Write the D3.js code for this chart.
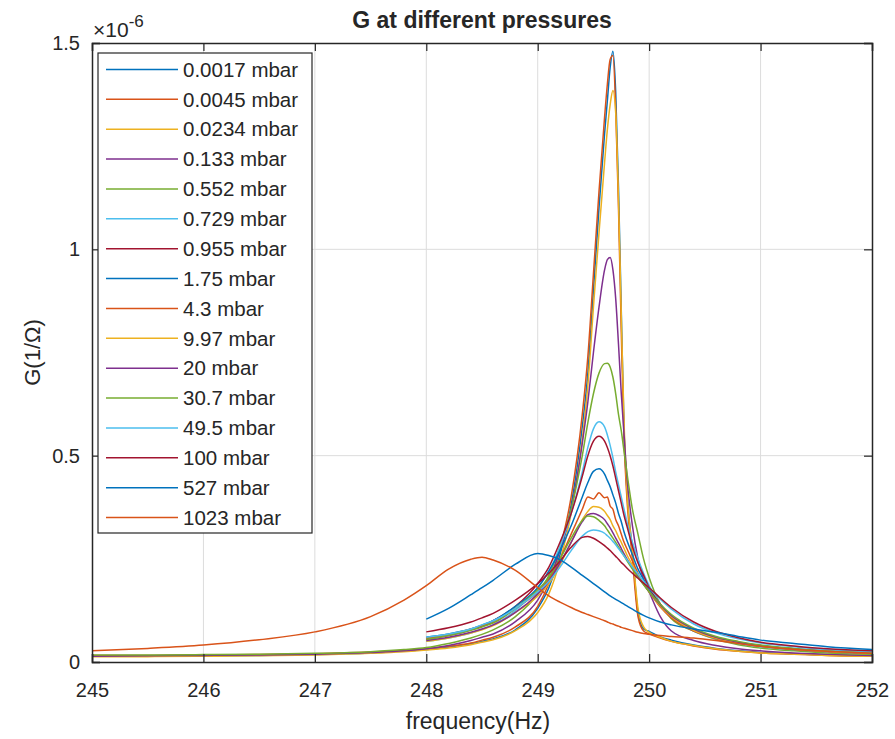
<!DOCTYPE html>
<html>
<head>
<meta charset="utf-8">
<script src="https://cdn.jsdelivr.net/npm/d3@7"></script>
<style>
  body { margin: 0; background: #ffffff; }
  text { font-family: "Liberation Sans", Arial, Helvetica, sans-serif; fill: #262626; }
</style>
</head>
<body>
<div id="chart"></div>
<script>

// frequency grid (Hz) shared by all series
var freq = [245, 245.5, 246, 246.5, 247, 247.5, 247.8,
  248, 248.2, 248.4, 248.5, 248.6, 248.8,
  249, 249.1, 249.2, 249.3, 249.4, 249.45, 249.5, 249.55, 249.6, 249.625, 249.65, 249.675,
  249.7, 249.725, 249.75, 249.775, 249.8, 249.85, 249.9, 249.95,
  250, 250.1, 250.2, 250.4, 250.6, 250.8, 251, 251.3, 251.6, 252];

// G values in units of 1e-6 (1/Ohm); null = not measured
var g0017 = [.014, .014, .015, .016, .018, .022, .026, .030, .036, .044, .05, .056, .078,
  .13, .18, .26, .38, .57, .70, .90, 1.10, 1.28, 1.36, 1.44, 1.48, 1.38, 1.15, .85, .56, .42, .27, .12, .08,
  .074, .061, .053, .041, .033, .027, .023, .020, .017, .015];
var g0045 = [.016, .016, .017, .018, .020, .024, .028, .032, .038, .046, .053, .060, .085,
  .135, .19, .275, .40, .60, .74, .94, 1.14, 1.32, 1.40, 1.46, 1.47, 1.34, 1.10, .80, .54, .40, .25, .11, .075,
  .068, .058, .05, .039, .031, .026, .022, .019, .016, .014];
var g0234 = [.013, .013, .014, .015, .017, .021, .025, .029, .034, .042, .048, .054, .076,
  .12, .165, .245, .36, .54, .67, .86, 1.04, 1.21, 1.29, 1.35, 1.385, 1.33, 1.12, .84, .58, .42, .27, .13, .085,
  .072, .06, .05, .04, .032, .026, .022, .019, .016, .014];
var g133 = [.014, .015, .016, .017, .019, .023, .027, .032, .040, .052, .06, .068, .098,
  .15, .20, .27, .37, .53, .63, .75, .86, .95, .975, .98, .95, .88, .77, .65, .55, .45, .33, .25, .2,
  .17, .11, .075, .052, .040, .032, .027, .022, .019, .016];
var g552 = [.017, .017, .018, .019, .021, .025, .030, .035, .045, .058, .067, .078, .11,
  .165, .21, .28, .37, .50, .58, .65, .70, .723, .724, .715, .69, .65, .60, .56, .51, .46, .37, .31, .25,
  .205, .14, .105, .075, .055, .042, .034, .027, .022, .019];
var g729 = [null, null, null, null, null, null, null, .05, .058, .07, .079, .09, .125,
  .18, .22, .28, .36, .46, .52, .565, .582, .57, .55, .525, .495, .46, .43, .40, .37, .34, .29, .25, .215,
  .185, .14, .11, .075, .056, .045, .037, .03, .025, .021];
var g955 = [null, null, null, null, null, null, null, .055, .064, .078, .088, .10, .135,
  .19, .23, .29, .36, .45, .50, .535, .547, .535, .52, .50, .475, .445, .415, .385, .355, .33, .28, .24, .21,
  .18, .14, .11, .077, .058, .047, .039, .031, .026, .022];
var g175 = [null, null, null, null, null, null, null, .06, .068, .08, .089, .10, .135,
  .18, .22, .27, .33, .40, .435, .462, .468, .455, .44, .425, .405, .385, .36, .34, .315, .295, .26, .225, .20,
  .175, .135, .108, .076, .058, .047, .039, .031, .026, .022];
var g43 = [null, null, null, null, null, null, null, .058, .066, .08, .088, .095, .13,
  .17, .2, .25, .31, .37, .40, .395, .41, .398, .40, .378, .37, .345, .33, .31, .29, .275, .245, .215, .19,
  .17, .133, .107, .075, .057, .046, .038, .03, .025, .021];
var g997 = [null, null, null, null, null, null, null, .05, .058, .07, .078, .088, .12,
  .16, .19, .235, .29, .345, .365, .377, .375, .365, .355, .345, .33, .318, .303, .29, .275, .26, .235, .21, .19,
  .17, .135, .11, .077, .058, .047, .039, .031, .026, .022];
var g20 = [null, null, null, null, null, null, null, .052, .06, .072, .08, .09, .12,
  .165, .195, .24, .29, .34, .357, .36, .355, .345, .335, .325, .313, .30, .288, .275, .262, .25, .228, .207, .188,
  .17, .138, .112, .08, .06, .048, .04, .032, .027, .023];
var g307 = [null, null, null, null, null, null, null, .055, .064, .077, .085, .095, .13,
  .175, .205, .25, .30, .343, .354, .352, .343, .33, .32, .31, .30, .29, .279, .268, .257, .246, .225, .205, .187,
  .17, .14, .115, .082, .062, .05, .041, .033, .027, .023];
var g495 = [null, null, null, null, null, null, null, .06, .068, .08, .09, .10, .13,
  .17, .195, .23, .27, .305, .316, .32, .318, .312, .306, .30, .292, .284, .275, .266, .257, .248, .23, .213, .196,
  .18, .152, .128, .092, .07, .056, .046, .037, .03, .025];
var g100 = [null, null, null, null, null, null, null, .073, .083, .097, .107, .118, .15,
  .19, .215, .245, .278, .302, .304, .30, .292, .282, .276, .27, .263, .256, .249, .241, .235, .228, .215, .203, .191,
  .18, .155, .132, .097, .074, .059, .048, .039, .032, .027];
var g527 = [null, null, null, null, null, null, null, .104, .13, .163, .18, .198, .237,
  .263, .258, .248, .23, .21, .2, .19, .18, .17, .165, .16, .156, .152, .148, .144, .14, .136, .128, .12, .113,
  .107, .097, .09, .08, .072, .062, .053, .045, .037, .03];
var g1023 = [.027, .033, .041, .054, .073, .11, .15, .185, .225, .249, .254, .247, .222,
  .18, .16, .145, .132, .12, .115, .11, .105, .10, .097, .094, .092, .089, .087, .084, .082, .08, .076, .072, .069,
  .067, .064, .062, .058, .052, .045, .038, .031, .026, .021];

var pressures = ["0.0017 mbar", "0.0045 mbar", "0.0234 mbar", "0.133 mbar", "0.552 mbar",
  "0.729 mbar", "0.955 mbar", "1.75 mbar", "4.3 mbar", "9.97 mbar", "20 mbar",
  "30.7 mbar", "49.5 mbar", "100 mbar", "527 mbar", "1023 mbar"];
var seriesValues = [g0017, g0045, g0234, g133, g552, g729, g955, g175, g43, g997,
  g20, g307, g495, g100, g527, g1023];

var xTicks = [245, 246, 247, 248, 249, 250, 251, 252];
var yTicks = [0, 0.5, 1, 1.5];
var yTickLabels = ["0", "0.5", "1", "1.5"];

// matlab default line colours
var colors = ["#0072BD", "#D95319", "#EDB120", "#7E2F8E", "#77AC30", "#4DBEEE", "#A2142F"];

var svgWidth = 895;
var svgHeight = 739;

var margin = {
  top: 43,
  right: 23,
  bottom: 77,
  left: 92
};

var width = svgWidth - margin.left - margin.right;
var height = svgHeight - margin.top - margin.bottom;

var svg = d3.select("#chart")
  .append("svg")
  .attr("width", svgWidth)
  .attr("height", svgHeight);

svg.append("rect")
  .attr("width", svgWidth)
  .attr("height", svgHeight)
  .attr("fill", "#ffffff");

var chartGroup = svg.append("g")
  .attr("transform", `translate(${margin.left}, ${margin.top})`);

var xScale = d3.scaleLinear()
  .domain([245, 252])
  .range([0, width]);

var yScale = d3.scaleLinear()
  .domain([0, 1.5])
  .range([height, 0]);

// grid lines
chartGroup.append("g")
  .selectAll("line")
  .data(xTicks.slice(1, -1))
  .enter()
  .append("line")
  .attr("x1", d => xScale(d))
  .attr("x2", d => xScale(d))
  .attr("y1", 0)
  .attr("y2", height)
  .attr("stroke", "#dcdcdc")
  .attr("stroke-width", 1);

chartGroup.append("g")
  .selectAll("line")
  .data(yTicks.slice(1, -1))
  .enter()
  .append("line")
  .attr("x1", 0)
  .attr("x2", width)
  .attr("y1", d => yScale(d))
  .attr("y2", d => yScale(d))
  .attr("stroke", "#dcdcdc")
  .attr("stroke-width", 1);

chartGroup.append("clipPath")
  .attr("id", "plotClip")
  .append("rect")
  .attr("width", width)
  .attr("height", height);

var line = d3.line()
  .defined(d => d[1] !== null)
  .x(d => xScale(d[0]))
  .y(d => yScale(d[1]))
  .curve(d3.curveMonotoneX);

// one path per pressure
chartGroup.append("g")
  .attr("clip-path", "url(#plotClip)")
  .selectAll("path")
  .data(seriesValues)
  .enter()
  .append("path")
  .attr("d", vals => line(freq.map((f, i) => [f, vals[i]])))
  .attr("fill", "none")
  .attr("stroke", (d, i) => colors[i % colors.length])
  .attr("stroke-width", 1.5)
  .attr("stroke-linejoin", "round");

// axes, ticks pointing inwards like matlab
var xAxis = d3.axisBottom(xScale)
  .tickValues(xTicks)
  .tickFormat(d3.format("d"))
  .tickSize(-8)
  .tickPadding(21);

var yAxis = d3.axisLeft(yScale)
  .tickValues(yTicks)
  .tickFormat((d, i) => yTickLabels[i])
  .tickSize(-8)
  .tickPadding(12);

var xAxisG = chartGroup.append("g")
  .attr("transform", `translate(0, ${height})`)
  .call(xAxis);

var yAxisG = chartGroup.append("g")
  .call(yAxis);

var topAxisG = chartGroup.append("g")
  .call(d3.axisTop(xScale).tickValues(xTicks).tickSize(-8).tickFormat(""));

var rightAxisG = chartGroup.append("g")
  .attr("transform", `translate(${width}, 0)`)
  .call(d3.axisRight(yScale).tickValues(yTicks).tickSize(-8).tickFormat(""));

[xAxisG, yAxisG, topAxisG, rightAxisG].forEach(function (g) {
  g.select(".domain").attr("stroke", "#262626").attr("stroke-width", 1.5);
  g.selectAll(".tick line").attr("stroke", "#262626").attr("stroke-width", 1.2);
  g.selectAll(".tick text")
    .attr("fill", "#262626")
    .style("font-family", "'Liberation Sans', Arial, sans-serif")
    .style("font-size", "20px");
});

// exponent label
var expText = chartGroup.append("text")
  .attr("x", 1)
  .attr("y", -6)
  .style("font-size", "21px");
expText.append("tspan").text("\u00d710");
expText.append("tspan")
  .attr("dy", -10)
  .style("font-size", "17px")
  .text("-6");

// title and axis labels
svg.append("text")
  .attr("x", margin.left + width / 2)
  .attr("y", 28)
  .attr("text-anchor", "middle")
  .style("font-size", "23px")
  .attr("font-weight", "bold")
  .text("G at different pressures");

svg.append("text")
  .attr("x", margin.left + width / 2 - 4)
  .attr("y", 729)
  .attr("text-anchor", "middle")
  .style("font-size", "23px")
  .text("frequency(Hz)");

svg.append("text")
  .attr("transform", `translate(40, ${margin.top + height / 2}) rotate(-90)`)
  .attr("text-anchor", "middle")
  .style("font-size", "22px")
  .text("G(1/\u03a9)");

// legend
var legend = chartGroup.append("g")
  .attr("transform", "translate(6, 10)");

legend.append("rect")
  .attr("width", 214)
  .attr("height", 480)
  .attr("fill", "#ffffff")
  .attr("stroke", "#262626")
  .attr("stroke-width", 1.2);

var legendItems = legend.selectAll(".item")
  .data(pressures)
  .enter()
  .append("g")
  .attr("class", "item")
  .attr("transform", (d, i) => `translate(0, ${16.5 + i * 29.87})`);

legendItems.append("line")
  .attr("x1", 8)
  .attr("x2", 80)
  .attr("stroke", (d, i) => colors[i % colors.length])
  .attr("stroke-width", 1.5);

legendItems.append("text")
  .attr("x", 85)
  .attr("dy", "0.35em")
  .style("font-size", "20.5px")
  .text(d => d);

</script>
</body>
</html>
